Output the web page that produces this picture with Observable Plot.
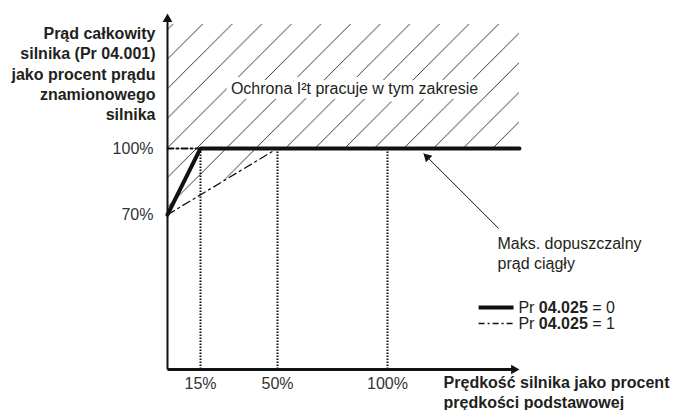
<!DOCTYPE html>
<html><head><meta charset="utf-8">
<script src="https://cdn.jsdelivr.net/npm/d3@7"></script>
<script src="https://cdn.jsdelivr.net/npm/@observablehq/plot@0.6"></script>
<style>body{margin:0;background:#fff} svg{display:block}</style>
</head><body><div id="chart"></div>
<script>
// ---- data ----
const speedTicks = [15, 50, 100];
const speedTickLabels = ["15%", "50%", "100%"];
const currentTicks = [70, 100];
const currentTickLabels = ["70%", "100%"];

// Pr 04.025 = 0 (thick)
const speed0 = [0, 15, 160];
const current0 = [70, 100, 100];
// Pr 04.025 = 1 (dash-dot)
const speed1 = [0, 50];
const current1 = [70, 100];
// guide dash-dot along 100% up to 15%
const guideSpeed = [0, 15];
const guideCurrent = [100, 100];
// dotted verticals
const dropSpeeds = [15, 50, 100];
const dropTop = 100;
// hatched I2t region
const hatchSpeed = [0, 50, 160];
const hatchLow = [70, 100, 100];
const hatchTop = 156;

const yTitle = "Prąd całkowity\nsilnika (Pr 04.001)\njako procent prądu\nznamionowego\nsilnika";
const xTitle = "Prędkość silnika jako procent\nprędkości podstawowej";
const zoneLabel = "Ochrona I²t pracuje w tym zakresie";
const noteLabel = "Maks. dopuszczalny\nprąd ciągły";
const legendLabels = ["Pr 04.025 = 0", "Pr 04.025 = 1"];

// annotation anchor positions (data units)
const zonePos = {x: 85, y: 127};
const notePos = {x: 150, y: 53};
const noteArrow = {x1: 150.5, y1: 63.8, x2: 116.4, y2: 97.7};
const legendPos = {x1: 141.4, x2: 157.3, xt: 159.5, y: [28.0, 20.8]};
const yTitlePos = {x: 0, y: 134};
const xTitlePos = {x: 125.5, y: -9.95};

const xMax = 160, yMax = 161;

const ink = "#231f20";
const zip = (xs, ys) => xs.map((x, i) => ({x, y: ys[i]}));

const plot = Plot.plot({
  width: 674, height: 410,
  marginLeft: 167, marginRight: 155, marginTop: 13, marginBottom: 41,
  x: {domain: [0, xMax], label: null},
  y: {domain: [0, yMax], label: null},
  style: {fontFamily: "'Liberation Sans', Arial, sans-serif", fontSize: "16px", color: ink, background: "#fff"},
  marks: [
    Plot.areaY(hatchSpeed.map((x, i) => ({x, lo: hatchLow[i], hi: hatchTop})),
      {x: "x", y1: "lo", y2: "hi", fill: "url(#hatch)", curve: "linear"}),
    Plot.text([zonePos], {x: "x", y: "y", text: () => zoneLabel, fill: ink, stroke: "white", strokeWidth: 10, fontSize: 16}),
    // dotted drops
    Plot.ruleX(dropSpeeds, {y1: 0, y2: dropTop, stroke: "#111", strokeWidth: 2, strokeDasharray: "1.6,1.4"}),
    // dash-dot guide at 100%
    Plot.line(zip(guideSpeed, guideCurrent), {x: "x", y: "y", stroke: "#111", strokeWidth: 2, strokeDasharray: "6,3,2,3"}),
    // Pr=1 curve
    Plot.line(zip(speed1, current1), {x: "x", y: "y", stroke: "#111", strokeWidth: 1.3, strokeDasharray: "8,4,2,4"}),
    // Pr=0 curve
    Plot.line(zip(speed0, current0), {x: "x", y: "y", stroke: "#111", strokeWidth: 4, strokeLinejoin: "miter"}),
    // axes
    Plot.link([{x1: 0, y1: 0, x2: 0, y2: yMax - 2}], {x1: "x1", y1: "y1", x2: "x2", y2: "y2", stroke: "#111", strokeWidth: 2}),
    Plot.link([{x1: 0, y1: 0, x2: xMax - 2, y2: 0}], {x1: "x1", y1: "y1", x2: "x2", y2: "y2", stroke: "#111", strokeWidth: 3}),
    Plot.dot([{x: 0, y: yMax}], {x: "x", y: "y", symbol: "triangle", r: 3.6, fill: "#111", stroke: "none", dy: 5.6}),
    Plot.dot([{x: xMax, y: 0}], {x: "x", y: "y", symbol: "triangle", r: 3.6, fill: "#111", stroke: "none", rotate: 90, dx: -5.6}),
    Plot.axisX(speedTicks, {tickSize: 0, tickPadding: 8, tickFormat: (d, i) => speedTickLabels[i], fontSize: 16, color: "#333"}),
    Plot.axisY(currentTicks, {tickSize: 0, tickPadding: 14, tickFormat: (d, i) => currentTickLabels[i], fontSize: 16, color: "#333"}),
    // titles
    Plot.text([yTitlePos], {x: "x", y: "y", dx: -12, text: () => yTitle, textAnchor: "end", lineHeight: 1.27, fontWeight: "bold", fontSize: 16, fill: ink}),
    Plot.text([xTitlePos], {x: "x", y: "y", text: () => xTitle, textAnchor: "start", lineHeight: 1.22, fontWeight: "bold", fontSize: 16, fill: ink}),
    // note + arrow
    Plot.link([noteArrow], {x1: "x1", y1: "y1", x2: "x2", y2: "y2", stroke: "#111", strokeWidth: 1}),
    Plot.dot([noteArrow], {x: "x2", y: "y2", symbol: "triangle", r: 3.4, fill: "#111", stroke: "none", rotate: -45, dx: 3.7, dy: 3.7}),
    Plot.text([notePos], {x: "x", y: "y", text: () => noteLabel, textAnchor: "start", lineHeight: 1.3, fontSize: 16, fill: ink}),
    // legend
    Plot.link([{x1: legendPos.x1, x2: legendPos.x2, y: legendPos.y[0]}], {x1: "x1", x2: "x2", y1: "y", y2: "y", stroke: "#111", strokeWidth: 4}),
    Plot.link([{x1: legendPos.x1, x2: legendPos.x2, y: legendPos.y[1]}], {x1: "x1", x2: "x2", y1: "y", y2: "y", stroke: "#111", strokeWidth: 1.3, strokeDasharray: "6,3,2,3"}),
    Plot.text(legendLabels.map((t, i) => ({t, y: legendPos.y[i]})), {x: () => legendPos.xt, y: "y", text: "t", textAnchor: "start", fontSize: 16, fill: ink})
  ]
});

// hatch pattern definition
const svg = d3.select(plot);
const defs = svg.insert("defs", ":first-child");
const pat = defs.append("pattern").attr("id", "hatch").attr("patternUnits", "userSpaceOnUse")
  .attr("x", 19.4).attr("y", 0).attr("width", 29.6).attr("height", 29.6);
pat.append("path").attr("d", "M-3,32.6L32.6,-3").attr("stroke", "#222").attr("stroke-width", 0.9).attr("fill", "none");

// bold parameter number in legend
svg.selectAll("text").filter(function() { return /^Pr 04\.025/.test(this.textContent); })
  .each(function() {
    const t = d3.select(this);
    const s = this.textContent;
    const m = s.match(/^(Pr )(04\.025)(.*)$/);
    t.text(null);
    t.append("tspan").text(m[1]);
    t.append("tspan").attr("font-weight", "bold").text(m[2]);
    t.append("tspan").text(m[3]);
  });

document.getElementById("chart").appendChild(plot);
</script>
</body></html>
